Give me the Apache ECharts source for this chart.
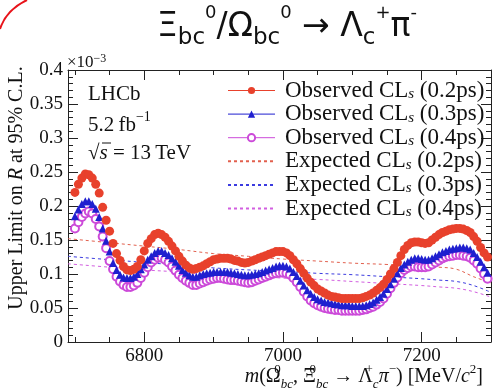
<!DOCTYPE html>
<html>
<head>
<meta charset="utf-8">
<script src="https://cdn.jsdelivr.net/npm/echarts@6/dist/echarts.min.js"></script>
<style>
  html, body { margin: 0; padding: 0; background: #fff; }
  #chart { width: 496px; height: 390px; }
</style>
</head>
<body>
<div id="chart"></div>
<script>
// mass points of the observed limits [MeV/c^2]
const massObs = [
  6700, 6705, 6710, 6715, 6720, 6725, 6730, 6735, 6740, 6745,
  6750, 6755, 6760, 6765, 6770, 6775, 6780, 6785, 6790, 6795,
  6800, 6805, 6810, 6815, 6820, 6825, 6830, 6835, 6840, 6845,
  6850, 6855, 6860, 6865, 6870, 6875, 6880, 6885, 6890, 6895,
  6900, 6905, 6910, 6915, 6920, 6925, 6930, 6935, 6940, 6945,
  6950, 6955, 6960, 6965, 6970, 6975, 6980, 6985, 6990, 6995,
  7000, 7005, 7010, 7015, 7020, 7025, 7030, 7035, 7040, 7045,
  7050, 7055, 7060, 7065, 7070, 7075, 7080, 7085, 7090, 7095,
  7100, 7105, 7110, 7115, 7120, 7125, 7130, 7135, 7140, 7145,
  7150, 7155, 7160, 7165, 7170, 7175, 7180, 7185, 7190, 7195,
  7200, 7205, 7210, 7215, 7220, 7225, 7230, 7235, 7240, 7245,
  7250, 7255, 7260, 7265, 7270, 7275, 7280, 7285, 7290, 7295
];

// observed upper limits (x 10^-3)
const obs02 = [
  0.220, 0.232, 0.241, 0.247, 0.246, 0.241, 0.232, 0.219, 0.198, 0.179,
  0.163, 0.145, 0.130, 0.120, 0.111, 0.106, 0.105, 0.107, 0.111, 0.121,
  0.134, 0.145, 0.152, 0.158, 0.160, 0.158, 0.154, 0.148, 0.141, 0.134,
  0.126, 0.119, 0.113, 0.109, 0.107, 0.108, 0.110, 0.112, 0.115, 0.118,
  0.121, 0.122, 0.123, 0.123, 0.123, 0.122, 0.120, 0.119, 0.117, 0.116,
  0.117, 0.119, 0.121, 0.123, 0.125, 0.127, 0.129, 0.131, 0.133, 0.133,
  0.133, 0.131, 0.127, 0.121, 0.115, 0.108, 0.101, 0.094, 0.088, 0.083,
  0.078, 0.075, 0.072, 0.069, 0.067, 0.066, 0.065, 0.064, 0.064, 0.064,
  0.064, 0.064, 0.064, 0.065, 0.067, 0.069, 0.072, 0.076, 0.080, 0.085,
  0.092, 0.100, 0.108, 0.117, 0.127, 0.136, 0.142, 0.146, 0.147, 0.147,
  0.146, 0.145, 0.146, 0.150, 0.154, 0.158, 0.161, 0.163, 0.165, 0.166,
  0.167, 0.167, 0.166, 0.164, 0.161, 0.155, 0.148, 0.139, 0.131, 0.125
];
const obs03 = [
  0.185, 0.195, 0.203, 0.207, 0.207, 0.203, 0.196, 0.184, 0.167, 0.149,
  0.133, 0.116, 0.106, 0.099, 0.095, 0.094, 0.094, 0.096, 0.100, 0.107,
  0.114, 0.121, 0.126, 0.131, 0.134, 0.134, 0.131, 0.128, 0.123, 0.118,
  0.112, 0.106, 0.102, 0.098, 0.096, 0.096, 0.098, 0.100, 0.101, 0.102,
  0.103, 0.103, 0.103, 0.103, 0.103, 0.102, 0.101, 0.100, 0.099, 0.098,
  0.098, 0.099, 0.100, 0.101, 0.103, 0.105, 0.107, 0.109, 0.111, 0.112,
  0.112, 0.111, 0.108, 0.103, 0.097, 0.090, 0.083, 0.076, 0.071, 0.066,
  0.063, 0.061, 0.059, 0.058, 0.057, 0.056, 0.055, 0.054, 0.054, 0.054,
  0.053, 0.053, 0.053, 0.053, 0.054, 0.056, 0.058, 0.062, 0.066, 0.071,
  0.078, 0.085, 0.093, 0.101, 0.109, 0.114, 0.118, 0.121, 0.123, 0.123,
  0.122, 0.121, 0.121, 0.123, 0.126, 0.129, 0.132, 0.134, 0.136, 0.137,
  0.138, 0.139, 0.139, 0.138, 0.136, 0.131, 0.125, 0.118, 0.110, 0.102
];
const obs04 = [
  0.167, 0.176, 0.184, 0.189, 0.192, 0.189, 0.181, 0.170, 0.155, 0.138,
  0.119, 0.107, 0.096, 0.089, 0.084, 0.081, 0.081, 0.083, 0.087, 0.094,
  0.102, 0.110, 0.117, 0.121, 0.124, 0.124, 0.121, 0.117, 0.111, 0.105,
  0.099, 0.094, 0.090, 0.087, 0.084, 0.084, 0.086, 0.088, 0.090, 0.092,
  0.093, 0.094, 0.094, 0.093, 0.092, 0.091, 0.091, 0.090, 0.089, 0.088,
  0.087, 0.088, 0.090, 0.092, 0.094, 0.096, 0.098, 0.100, 0.101, 0.102,
  0.102, 0.101, 0.099, 0.094, 0.088, 0.081, 0.074, 0.067, 0.061, 0.057,
  0.054, 0.052, 0.050, 0.049, 0.048, 0.047, 0.047, 0.046, 0.046, 0.046,
  0.046, 0.046, 0.046, 0.047, 0.048, 0.050, 0.052, 0.055, 0.059, 0.064,
  0.071, 0.079, 0.087, 0.095, 0.101, 0.106, 0.109, 0.111, 0.111, 0.110,
  0.110, 0.110, 0.111, 0.114, 0.117, 0.120, 0.123, 0.125, 0.126, 0.127,
  0.128, 0.128, 0.127, 0.126, 0.124, 0.120, 0.115, 0.108, 0.100, 0.093
];

// expected limits, coarser grid
const massExp = [6690, 6750, 6800, 6850, 6900, 6950, 7000, 7050, 7100, 7150, 7200, 7225, 7250, 7275, 7300];
const exp02 = [0.152, 0.146, 0.141, 0.136, 0.130, 0.126, 0.122, 0.119, 0.116, 0.114, 0.111, 0.110, 0.107, 0.096, 0.087];
const exp03 = [0.126, 0.121, 0.117, 0.113, 0.109, 0.106, 0.104, 0.101, 0.099, 0.096, 0.093, 0.091, 0.089, 0.083, 0.073];
const exp04 = [0.115, 0.110, 0.106, 0.103, 0.099, 0.097, 0.094, 0.092, 0.089, 0.086, 0.083, 0.081, 0.079, 0.074, 0.066];

const majorTicks = [6800, 7000, 7200];
const minorTicks = [6700, 6750, 6850, 6900, 6950, 7050, 7100, 7150, 7250, 7300];

const names = [
  'Observed CLs (0.2ps)', 'Observed CLs (0.3ps)', 'Observed CLs (0.4ps)',
  'Expected CLs (0.2ps)', 'Expected CLs (0.3ps)', 'Expected CLs (0.4ps)'
];

const RED = '#e8412c', BLUE = '#1f1fcf', MAG = '#cc4ad9';
const SERIF = 'Liberation Serif';
const SANS = 'DejaVu Sans';

function pairs(xs, ys) {
  return xs.map((x, i) => [x, ys[i]]);
}

function xAx(pos, ticks, len, showLine, showLabel) {
  return {
    type: 'value', min: 6690, max: 7300, position: pos,
    axisLine: { show: showLine, lineStyle: { color: '#222', width: 1 } },
    axisTick: { show: true, inside: true, length: len, customValues: ticks, lineStyle: { color: '#222' } },
    axisLabel: {
      show: showLabel, customValues: ticks, margin: 5, color: '#111',
      fontFamily: SERIF, fontSize: 19, formatter: v => String(v)
    },
    splitLine: { show: false }
  };
}

function yAx(pos, showLabel) {
  return {
    type: 'value', min: 0, max: 0.4, interval: 0.05, position: pos,
    axisLine: { show: true, lineStyle: { color: '#222', width: 1 } },
    axisTick: { show: true, inside: true, length: 10, lineStyle: { color: '#222' } },
    minorTick: { show: true, splitNumber: 5, length: 5, lineStyle: { color: '#222' } },
    axisLabel: { show: showLabel, margin: 5, color: '#111', fontFamily: SERIF, fontSize: 19 },
    splitLine: { show: false }
  };
}

function obsSeries(name, data, symbol, size, color) {
  return {
    name: name, type: 'line', data: pairs(massObs, data),
    symbol: symbol, symbolSize: size, showSymbol: true,
    itemStyle: { color: color, borderColor: color, borderWidth: symbol === 'emptyCircle' ? 1.2 : 0 },
    lineStyle: { opacity: 0 },
    emphasis: { disabled: true }, animation: false, z: 3
  };
}

function expSeries(name, data, color) {
  return {
    name: name, type: 'line', data: pairs(massExp, data), smooth: 0.4,
    symbol: 'none', itemStyle: { color: color },
    lineStyle: { color: color, width: 1, type: [3, 3] },
    emphasis: { disabled: true }, animation: false, z: 2
  };
}

const chart = echarts.init(document.getElementById('chart'), null, { renderer: 'canvas' });

const option = {
  backgroundColor: '#fff',
  animation: false,
  title: {
    text: '{m|Ξ}{b|bc}{p|0}{m|/Ω}{b|bc}{p|0}{m| → Λ}{b|c}{p|+}{m|π}{p|-}',
    left: 157, top: 4, padding: 0,
    textStyle: {
      fontWeight: 'normal',
      rich: {
        m: { fontFamily: SANS, fontSize: 33, fontWeight: 'normal', lineHeight: 46, verticalAlign: 'middle', color: '#111' },
        b: { fontFamily: SANS, fontSize: 23, fontWeight: 'normal', lineHeight: 20, verticalAlign: 'bottom', color: '#111' },
        p: { fontFamily: SANS, fontSize: 18, fontWeight: 'normal', lineHeight: 26, verticalAlign: 'top', color: '#111' }
      }
    }
  },
  grid: { left: 68, right: 5, top: 70, bottom: 48 },
  legend: {
    orient: 'vertical', left: 227, top: 79, padding: 0,
    itemWidth: 47, itemHeight: 9, itemGap: 0.6,
    formatter: n => n.replace('CLs', 'CL{s|s}'),
    textStyle: {
      fontFamily: SERIF, fontSize: 23, lineHeight: 22, color: '#111', padding: [0, 0, 0, 5],
      rich: { s: { fontFamily: SERIF, fontStyle: 'italic', fontSize: 15, lineHeight: 12, verticalAlign: 'bottom' } }
    },
    data: [
      { name: names[0], lineStyle: { opacity: 1, width: 1, color: RED } },
      { name: names[1], lineStyle: { opacity: 1, width: 1, color: BLUE } },
      { name: names[2], lineStyle: { opacity: 1, width: 1, color: MAG } },
      { name: names[3], itemStyle: { opacity: 0 } },
      { name: names[4], itemStyle: { opacity: 0 } },
      { name: names[5], itemStyle: { opacity: 0 } }
    ]
  },
  xAxis: [
    xAx('bottom', majorTicks, 10, true, true),
    xAx('bottom', minorTicks, 5, false, false),
    xAx('top', majorTicks, 10, true, false),
    xAx('top', minorTicks, 5, false, false)
  ],
  yAxis: [yAx('left', true), yAx('right', false)],
  series: [
    expSeries(names[3], exp02, '#e2604e'),
    expSeries(names[4], exp03, '#3b3be0'),
    expSeries(names[5], exp04, '#d25ee0'),
    obsSeries(names[2], obs04, 'emptyCircle', 8, MAG),
    obsSeries(names[1], obs03, 'triangle', 8, BLUE),
    obsSeries(names[0], obs02, 'circle', 9, RED)
  ],
  graphic: [
    { type: 'text', x: 67, y: 63, style: {
      text: '×10{p|−3}', fill: '#111', font: '17px "Liberation Serif"', verticalAlign: 'middle',
      rich: { p: { fontFamily: SERIF, fontSize: 12, verticalAlign: 'top', lineHeight: 20 } } } },
    { type: 'text', x: 88, y: 94, style: { text: 'LHCb', fill: '#111', font: '21px "Liberation Serif"', verticalAlign: 'middle' } },
    { type: 'text', x: 88, y: 125, style: {
      text: '5.2\u2009fb{p|−1}', fill: '#111', font: '21px "Liberation Serif"', verticalAlign: 'middle',
      rich: { p: { fontFamily: SERIF, fontSize: 14, verticalAlign: 'top', lineHeight: 30 } } } },
    { type: 'text', x: 88, y: 153, style: {
      text: '√{i|s} = 13\u2009TeV', fill: '#111', font: '21px "Liberation Serif"', verticalAlign: 'middle',
      rich: { i: { fontFamily: SERIF, fontSize: 21, fontStyle: 'italic' } } } },
    { type: 'line', shape: { x1: 102, y1: 143, x2: 111, y2: 143 }, style: { stroke: '#111', lineWidth: 1 } },
    { type: 'text', x: 17, y: 188, rotation: Math.PI / 2, style: {
      text: 'Upper Limit on {i|R} at 95% C.L.', fill: '#111', font: '20px "Liberation Serif"',
      align: 'center', verticalAlign: 'middle',
      rich: { i: { fontFamily: SERIF, fontSize: 20, fontStyle: 'italic' } } } },
    { type: 'text', x: 483, y: 377, style: {
      text: '{i|m}(Ω{p|0}{b|bc}, Ξ{p|0}{b|bc} → Λ{p|+}{b|c}{i|π}{q|−}) [MeV/{i|c}{q|2}]',
      fill: '#111', font: '20px "Liberation Serif"', align: 'right', verticalAlign: 'middle',
      rich: {
        i: { fontFamily: SERIF, fontSize: 20, fontStyle: 'italic', lineHeight: 28 },
        p: { fontFamily: SERIF, fontSize: 13, verticalAlign: 'top', lineHeight: 16, width: 0.1 },
        q: { fontFamily: SERIF, fontSize: 13, verticalAlign: 'top', lineHeight: 16 },
        b: { fontFamily: SERIF, fontSize: 13, fontStyle: 'italic', verticalAlign: 'bottom', lineHeight: 12 }
      } } },
    { type: 'bezierCurve', shape: { x1: 0, y1: 29, x2: 27, y2: 0, cpx1: 6, cpy1: 10 },
      style: { stroke: '#e8131a', lineWidth: 2, fill: null } }
  ]
};

chart.setOption(option);
</script>
</body>
</html>
